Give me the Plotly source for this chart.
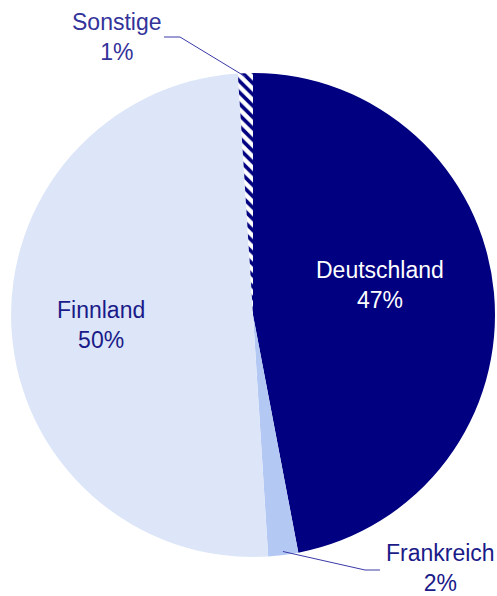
import math
import plotly.graph_objects as go

labels = ["Deutschland", "Frankreich", "Finnland", "Sonstige"]
values = [47, 2, 50, 1]
colors = ["#000080", "#b4c8f4", "#dce6f8", "#ffffff"]
patterns = ["", "", "", "\\"]
label_colors = ["#ffffff", "#1a1a88", "#1a1a88", "#33339a"]

W, H = 497, 596
CX, CY, R = 253, 315, 242  # pie centre / radius in pixels


def px(x):
    return x / W


def py(y):
    return 1 - y / H


fig = go.Figure(go.Pie(
    labels=labels,
    values=values,
    sort=False,
    direction="clockwise",
    rotation=0,
    textinfo="none",
    hoverinfo="label+percent",
    marker=dict(
        colors=colors,
        line=dict(width=0),
        pattern=dict(shape=patterns, fgcolor="#000080", bgcolor="#ffffff",
                     size=8, solidity=0.45, fillmode="replace"),
    ),
    domain=dict(x=[px(CX - R), px(CX + R)], y=[py(CY + R), py(CY - R)]),
    showlegend=False,
))

# label placements (pixels) for each slice
label_pos = {
    "Deutschland": (380, 285),
    "Frankreich": (440, 568),
    "Finnland": (101, 325),
    "Sonstige": (117, 37),
}
# leader line elbows for outside labels: (elbow point, end point)
leaders = {
    "Frankreich": ((365, 570), (380, 570)),
    "Sonstige": ((180, 37), (164, 37)),
}

total = sum(values)
cum = 0
annotations = []
shapes = []
for lab, val, tc in zip(labels, values, label_colors):
    pct = round(100 * val / total)
    mid = (cum + val / 2) / total * 2 * math.pi
    cum += val
    lx, ly = label_pos[lab]
    annotations.append(dict(
        x=px(lx), y=py(ly), xref="paper", yref="paper",
        text=f"{lab}<br>{pct}%", showarrow=False,
        font=dict(family="Liberation Sans, Arial, sans-serif", size=23, color=tc),
        align="center", xanchor="center", yanchor="middle",
    ))
    if lab in leaders:
        sx = CX + 0.985 * R * math.sin(mid)
        sy = CY - 0.985 * R * math.cos(mid)
        (ex, ey), (fx, fy) = leaders[lab]
        shapes.append(dict(
            type="path", xref="paper", yref="paper",
            path=f"M {px(sx)} {py(sy)} L {px(ex)} {py(ey)} L {px(fx)} {py(fy)}",
            line=dict(color="#3a3aa8", width=1),
        ))

fig.update_layout(
    width=W, height=H,
    margin=dict(l=0, r=0, t=0, b=0),
    paper_bgcolor="#ffffff",
    plot_bgcolor="#ffffff",
    annotations=annotations,
    shapes=shapes,
)

fig.write_html(
    "out.html",
    config={"displayModeBar": False},
    post_script="document.body.style.margin='0';document.body.style.overflow='hidden';",
)
